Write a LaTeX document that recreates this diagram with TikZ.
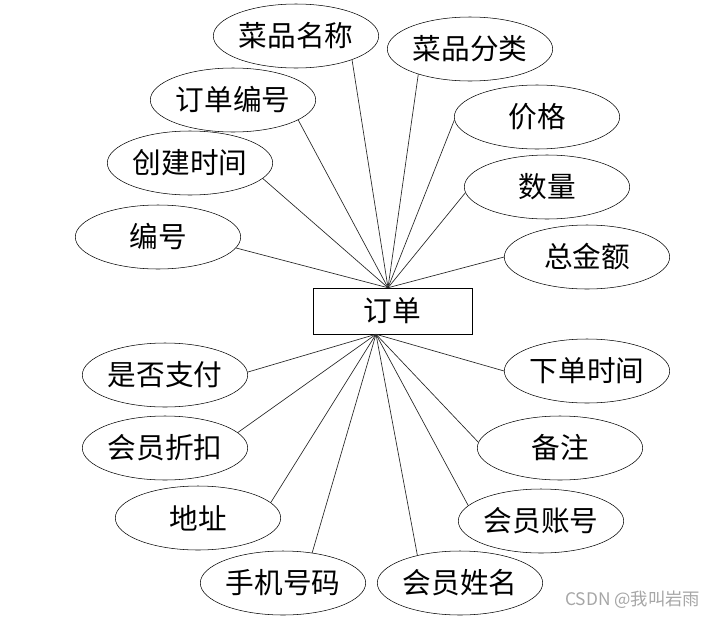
\documentclass[tikz,border=0pt]{standalone}
\usepackage{fontspec}
\setmainfont{Noto Sans CJK SC}
\newfontfamily\wmfont{Noto Sans CJK SC}
\usetikzlibrary{shapes.geometric, calc}

\begin{document}
\begin{tikzpicture}[
  x=0.75pt, y=-0.75pt,
  attrnode/.style  = {draw, ellipse, inner sep=0pt,
                      minimum width=124pt, minimum height=48pt,
                      font=\fontsize{21.5}{24}\selectfont},
  entnode/.style   = {draw, rectangle, inner sep=0pt,
                      minimum width=119pt, minimum height=34.5pt,
                      font=\fontsize{21.5}{24}\selectfont},
  link/.style      = {line width=0.5pt, black!85},
]
\useasboundingbox (0,0) rectangle (718,618);

% =============================================
% ENTITY
% =============================================
\node[entnode] (order) at (392.5,311) {订单};
\coordinate (hubtop) at ($(order.north)+(-4.5,0)$);
\coordinate (hubbot) at ($(order.south)+(-16.5,0)$);

% =============================================
% ATTRIBUTES (upper half)
% =============================================
\node[attrnode] (dishname) at (296,36)  {菜品名称};
\node[attrnode] (dishtype) at (470,49)  {菜品分类};
\node[attrnode] (orderno)  at (233,100) {订单编号};
\node[attrnode] (price)    at (537,117) {价格};
\node[attrnode] (ctime)    at (190,163) {创建时间};
\node[attrnode] (qty)      at (547,187) {数量};
\node[attrnode] (serial)   at (158,237) {编号};
\node[attrnode] (total)    at (587,257) {总金额};

% =============================================
% ATTRIBUTES (lower half)
% =============================================
\node[attrnode] (paid)     at (165,375) {是否支付};
\node[attrnode] (discount) at (165,448) {会员折扣};
\node[attrnode] (addr)     at (198,518) {地址};
\node[attrnode] (phone)    at (283,583) {手机号码};
\node[attrnode] (otime)    at (587,371) {下单时间};
\node[attrnode] (remark)   at (560,448) {备注};
\node[attrnode] (account)  at (541,521) {会员账号};
\node[attrnode] (mname)    at (460,583) {会员姓名};

% watermark
\node[font=\wmfont\fontsize{13}{15}\selectfont, text=gray!70, anchor=east]
  (mark) at (705,600) {CSDN @我叫岩雨};

% =============================================
% UPPER LINKS
% =============================================
\draw[link] (dishname.-23) -- (hubtop);
\draw[link] (dishtype.206) -- (hubtop);
\draw[link] (orderno.-17)  -- (hubtop);
\draw[link] (price.182)    -- (hubtop);
\draw[link] (ctime.-12)    -- (hubtop);
\draw[link] (qty.184)      -- (hubtop);
\draw[link] (serial.-8)    -- (hubtop);
\draw[link] (total.180)    -- (hubtop);

% =============================================
% LOWER LINKS
% =============================================
\draw[link] (hubbot) -- (paid.2);
\draw[link] (hubbot) -- (discount.12);
\draw[link] (hubbot) -- (addr.12);
\draw[link] (hubbot) -- (phone.46);
\draw[link] (hubbot) -- (otime.180);
\draw[link] (hubbot) -- (remark.176);
\draw[link] (hubbot) -- (account.168);
\draw[link] (hubbot) -- (mname.147);

\end{tikzpicture}
\end{document}
